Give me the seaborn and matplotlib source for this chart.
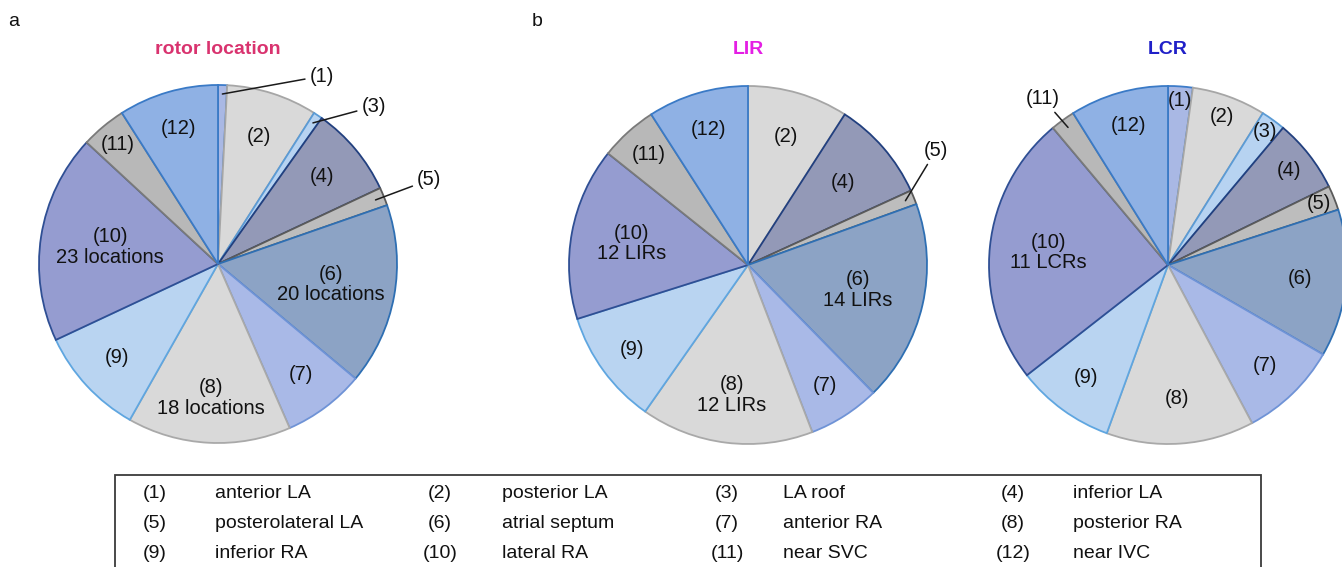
import numpy as np
import matplotlib
matplotlib.use("Agg")
import matplotlib.pyplot as plt
from matplotlib.patches import Rectangle
import seaborn as sns

# Atrial regions and how often each one hosted a driver
region_ids = list(range(1, 13))
region_names = ["anterior LA", "posterior LA", "LA roof", "inferior LA",
                "posterolateral LA", "atrial septum", "anterior RA", "posterior RA",
                "inferior RA", "lateral RA", "near SVC", "near IVC"]
rotor_counts = [1, 10, 1, 10, 2, 20, 9, 18, 12, 23, 5, 11]
lir_counts = [0, 7, 0, 7, 1, 14, 5, 12, 8, 12, 4, 7]
lcr_counts = [1, 3, 1, 3, 1, 6, 4, 6, 4, 11, 1, 4]

panel_titles = ["rotor location", "LIR", "LCR"]
count_units = ["locations", "LIRs", "LCRs"]
counted_regions = [[6, 8, 10], [6, 8, 10], [10]]

# ---- styling ----
sns.set_theme(style="white")
plt.rcParams["font.family"] = ["Liberation Sans", "DejaVu Sans"]

fills = ["#a9b8e4", "#d9d9d9", "#b7d3f1", "#9399b7", "#bdbdbd", "#8ca3c5",
         "#a9b9e7", "#d9d9d9", "#b9d4f1", "#959cd0", "#b8b8b8", "#8fb1e4"]
edges = ["#3d7cc9", "#a6a6a6", "#5b9bd5", "#22407f", "#5a5a5a", "#2e6fb3",
         "#6f93d6", "#a9a9a9", "#5fa6e0", "#2f4f94", "#7a7a7a", "#3a7ac6"]
title_colors = ["#d9336f", "#e41fe4", "#2020c8"]
TEXT_COLOR = "#111111"

W, H = 1342, 567
centers = [(218, 264), (748, 265), (1168, 265)]
radius_px = 179
LIM = 1.3

label_dist = [
    {2: 0.75, 4: 0.76, 6: 0.64, 7: 0.77, 8: 0.75, 9: 0.77, 10: 0.61, 11: 0.87, 12: 0.79},
    {2: 0.75, 4: 0.70, 6: 0.63, 7: 0.80, 8: 0.73, 9: 0.80, 10: 0.66, 11: 0.83, 12: 0.79},
    {1: 0.92, 2: 0.88, 3: 0.92, 4: 0.86, 5: 0.91, 6: 0.74, 7: 0.78, 8: 0.75, 9: 0.78,
     10: 0.67, 12: 0.81},
]
outside_pos = [
    {1: (0.58, 1.05), 3: (0.87, 0.88), 5: (1.18, 0.47)},
    {5: (1.05, 0.64)},
    {11: (-0.70, 0.93)},
]

LABEL_FS = 14.5

fig = plt.figure(figsize=(W / 100, H / 100), dpi=100)


def draw_pie(ax, counts, dists, outside, counted, unit):
    idx = [i for i, c in enumerate(counts) if c > 0]
    vals = [counts[i] for i in idx]
    wedges, _ = ax.pie(vals, startangle=90, counterclock=False,
                       colors=[fills[i] for i in idx], radius=1.0,
                       wedgeprops=dict(linewidth=1.3))
    for w, i in zip(wedges, idx):
        w.set_edgecolor(edges[i])
    total = float(sum(vals))
    cum = 0.0
    for i in idx:
        mid = np.deg2rad((cum + counts[i] / 2.0) / total * 360.0)
        cum += counts[i]
        rid = region_ids[i]
        label = f"({rid})"
        if rid in counted:
            label += f"\n{counts[i]} {unit}"
        sx, cx = np.sin(mid), np.cos(mid)
        if rid in outside:
            ax.annotate(label, xy=(0.95 * sx, 0.95 * cx), xytext=outside[rid],
                        ha="center", va="center", fontsize=LABEL_FS,
                        color=TEXT_COLOR, annotation_clip=False,
                        arrowprops=dict(arrowstyle="-", color="#1a1a1a", lw=1.1,
                                        shrinkA=1, shrinkB=0))
        else:
            d = dists[rid]
            ax.text(d * sx, d * cx, label, ha="center", va="center",
                    fontsize=LABEL_FS, linespacing=1.12, color=TEXT_COLOR)
    ax.set_xlim(-LIM, LIM)
    ax.set_ylim(-LIM, LIM)
    ax.set_aspect("equal")
    ax.axis("off")


all_counts = [rotor_counts, lir_counts, lcr_counts]
for k, (cxp, cyp) in enumerate(centers):
    half = LIM * radius_px
    ax = fig.add_axes([(cxp - half) / W, (H - cyp - half) / H, 2 * half / W, 2 * half / H])
    draw_pie(ax, all_counts[k], label_dist[k], outside_pos[k], counted_regions[k],
             count_units[k])
    fig.text(cxp / W, 1 - 50 / H, panel_titles[k], ha="center", va="center",
             fontsize=14, fontweight="bold", color=title_colors[k])

# panel letters
fig.text(14 / W, 1 - 21 / H, "a", ha="center", va="center", fontsize=14, color=TEXT_COLOR)
fig.text(537 / W, 1 - 21 / H, "b", ha="center", va="center", fontsize=14, color=TEXT_COLOR)

# key box listing the region names
box_left, box_right, box_top = 115, 1261, 475
fig.add_artist(Rectangle((box_left / W, -0.1), (box_right - box_left) / W,
                         (H - box_top) / H + 0.1, transform=fig.transFigure,
                         fill=False, edgecolor="#3a3a3a", linewidth=1.3))
num_x = [155, 440, 727, 1013]
name_x = [215, 502, 783, 1073]
row_y = [494, 524, 554]
for n, (rid, name) in enumerate(zip(region_ids, region_names)):
    r, c = divmod(n, 4)
    fig.text(num_x[c] / W, 1 - row_y[r] / H, f"({rid})", ha="center", va="center",
             fontsize=14, color=TEXT_COLOR)
    fig.text(name_x[c] / W, 1 - row_y[r] / H, name, ha="left", va="center",
             fontsize=14, color=TEXT_COLOR)

fig.savefig("out.png", dpi=100, facecolor="white")
